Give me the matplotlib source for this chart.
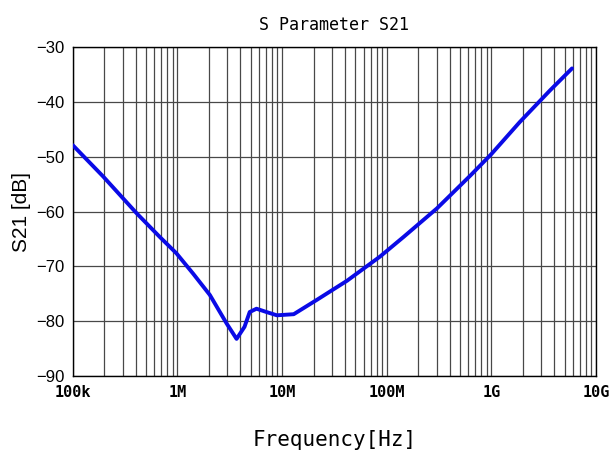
import numpy as np
import matplotlib
matplotlib.use("Agg")
import matplotlib.pyplot as plt
from matplotlib.ticker import FixedLocator, LogLocator, NullFormatter

freq_hz = [1e5, 1.95e5, 4.07e5, 6.76e5, 9.77e5, 1.41e6, 2.04e6, 2.95e6,
           3.67e6, 4.37e6, 4.9e6, 5.69e6, 7.08e6, 8.91e6, 12.9e6, 21.4e6,
           41.7e6, 86.1e6, 145e6, 302e6, 631e6, 1.0e9, 1.86e9,
           3.63e9, 5.89e9]
s21_db = [-47.9, -53.6, -60.3, -64.6, -67.6, -71.3, -75.2, -80.4,
          -83.2, -81.0, -78.3, -77.7, -78.3, -78.9, -78.7, -76.1,
          -72.6, -68.2, -64.6, -59.4, -53.4, -49.5, -43.7,
          -37.9, -33.9]

x_ticks = [1e5, 1e6, 1e7, 1e8, 1e9, 1e10]
x_tick_labels = ["100k", "1M", "10M", "100M", "1G", "10G"]
y_ticks = [-90, -80, -70, -60, -50, -40, -30]

fig = plt.figure(figsize=(6.12, 4.75), dpi=100)
ax = fig.add_axes([0.119, 0.208, 0.855, 0.693])

ax.plot(freq_hz, s21_db, color="#0a0ae6", linewidth=2.8, solid_capstyle="round",
        solid_joinstyle="round", zorder=3)

ax.set_xscale("log")
ax.set_xlim(1e5, 1e10)
ax.set_ylim(-90, -30)

ax.xaxis.set_major_locator(FixedLocator(x_ticks))
ax.xaxis.set_minor_locator(LogLocator(base=10, subs=np.arange(2, 10)))
ax.xaxis.set_minor_formatter(NullFormatter())
ax.set_xticks(x_ticks)
ax.set_xticklabels(x_tick_labels)
ax.set_yticks(y_ticks)

ax.grid(True, which="both", axis="x", color="#484848", linewidth=0.9)
ax.grid(True, which="major", axis="y", color="#484848", linewidth=0.9)
ax.tick_params(which="both", length=0, pad=6)

for lbl in ax.get_xticklabels():
    lbl.set_fontfamily("DejaVu Sans Mono")
    lbl.set_fontweight("bold")
    lbl.set_fontsize(11)
for lbl in ax.get_yticklabels():
    lbl.set_fontfamily("Liberation Sans")
    lbl.set_fontsize(12)

for sp in ax.spines.values():
    sp.set_color("black")
    sp.set_linewidth(1.0)

ax.set_title("S Parameter S21", fontfamily="DejaVu Sans Mono", fontsize=12, pad=12)
ax.set_xlabel("Frequency[Hz]", fontfamily="DejaVu Sans Mono", fontsize=15, labelpad=22)
ax.set_ylabel("S21 [dB]", fontfamily="Liberation Sans", fontsize=15, labelpad=4)

fig.savefig("out.png", dpi=100)
